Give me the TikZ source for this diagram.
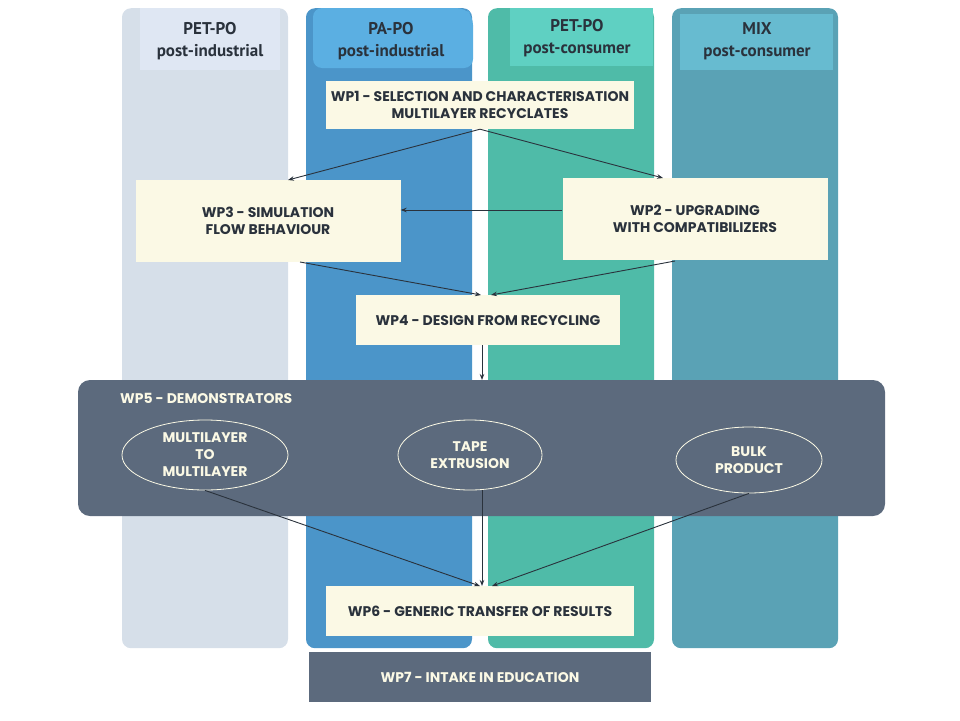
\documentclass[tikz,border=0pt]{standalone}
\usepackage{fontspec}
\setmainfont{Poppins}
\newfontfamily\headfont{PT Sans}
\usetikzlibrary{arrows.meta, positioning, shapes.geometric}
\definecolor{laneA}{HTML}{D6DFE9}
\definecolor{laneAh}{HTML}{DFE7F3}
\definecolor{laneB}{HTML}{4B95C9}
\definecolor{laneBh}{HTML}{5BAFE2}
\definecolor{laneC}{HTML}{4FBBA8}
\definecolor{laneCh}{HTML}{5FD0C2}
\definecolor{laneD}{HTML}{5AA2B5}
\definecolor{laneDh}{HTML}{67BBD0}
\definecolor{cream}{HTML}{FBF9E5}
\definecolor{slate}{HTML}{5C6A7D}
\definecolor{ink}{HTML}{2A323C}
\tikzset{
    lane/.style={rounded corners=9pt, minimum width=166pt, minimum height=640pt, anchor=north, inner sep=0pt},
    lanehead/.style={align=center, font=\headfont\bfseries\fontsize{17}{22}\selectfont, text=ink, inner sep=0pt},
    wpbox/.style={fill=cream, align=center, font=\bfseries\fontsize{14}{16.5}\selectfont, text=ink, inner sep=0pt, text depth=-3pt},
    demo/.style={ellipse, draw=cream, thick, align=center, text=cream, font=\bfseries\fontsize{14}{17}\selectfont, inner sep=0pt},
    flow/.style={-{Stealth[length=6pt, width=4.5pt]}, draw=ink, line width=0.9pt},
}

\begin{document}
\begin{tikzpicture}[x=1pt, y=-1pt]
    \useasboundingbox (0,0) rectangle (960,720);

    % material lanes
    \node[lane, fill=laneA] (l1) at (205,8) {};
    \node[lane, fill=laneB] (l2) at (389,8) {};
    \node[lane, fill=laneC] (l3) at (571,8) {};
    \node[lane, fill=laneD] (l4) at (755,8) {};

    \fill[laneAh] (140,8) rectangle (280,70);
    \fill[laneBh, rounded corners=9pt] (313,8) -- (465,8) -- (473,16) |- (313,68) -- cycle;
    \fill[laneCh] (510,8) rectangle (653,66);
    \fill[laneDh] (680,14) rectangle (833,70);

    \node[lanehead] (h1) at (210,41) {PET-PO\\post-industrial};
    \node[lanehead] (h2) at (391,41) {PA-PO\\post-industrial};
    \node[lanehead] (h3) at (577,38) {PET-PO\\post-consumer};
    \node[lanehead] (h4) at (757,41) {MIX\\post-consumer};

    % work packages
    \node[wpbox, minimum width=308pt, minimum height=48pt] (wp1) at (480,105) {WP1 - SELECTION AND CHARACTERISATION\\MULTILAYER RECYCLATES};
    \node[wpbox, minimum width=265pt, minimum height=82pt] (wp3) at (268,221) {WP3 - SIMULATION\\FLOW BEHAVIOUR};
    \node[wpbox, minimum width=265pt, minimum height=82pt] (wp2) at (695,219) {WP2 - UPGRADING\\WITH COMPATIBILIZERS};
    \node[wpbox, minimum width=264pt, minimum height=50pt] (wp4) at (488,320) {WP4 - DESIGN FROM RECYCLING};

    \node[fill=slate, rounded corners=12pt, minimum width=807pt, minimum height=136pt, inner sep=0pt] (wp5) at (481.5,448) {};
    \node[anchor=west, text=cream, font=\bfseries\fontsize{14}{17}\selectfont, inner sep=0pt] (wp5t) at (120,398) {WP5 - DEMONSTRATORS};

    \node[demo, minimum width=166pt, minimum height=70pt] (ml) at (205,455) {MULTILAYER\\TO\\MULTILAYER};
    \node[demo, minimum width=144pt, minimum height=70pt] (tape) at (470,455) {TAPE\\EXTRUSION};
    \node[demo, minimum width=146pt, minimum height=66pt] (bulk) at (749,460) {BULK\\PRODUCT};

    \node[wpbox, minimum width=308pt, minimum height=50pt] (wp6) at (480,611) {WP6 - GENERIC TRANSFER OF RESULTS};
    \node[wpbox, fill=slate, text=cream, minimum width=342pt, minimum height=50pt] (wp7) at (480,677) {WP7 - INTAKE IN EDUCATION};

    % connections
    \draw[flow] (wp1.south) -- (288,180);
    \draw[flow] (wp1.south) -- (663,178);
    \draw[flow] (wp2.west |- 0,210) -- (wp3.east |- 0,210);
    \draw[flow] (300,262) -- (481,295);
    \draw[flow] (675,261) -- (491,295);
    \draw[flow] (482,345) -- (482,380);
    \draw[flow] (ml.south) -- (480,586);
    \draw[flow] (482,490) -- (482,586);
    \draw[flow] (bulk.south) -- (492,586);
\end{tikzpicture}
\end{document}
